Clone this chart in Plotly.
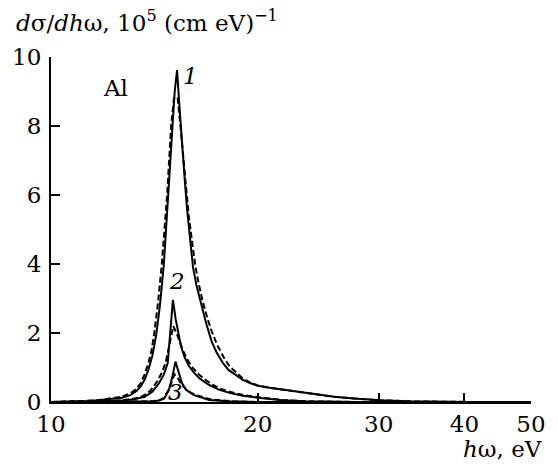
import math
import plotly.graph_objects as go

# Curve 1 (solid)
e1 = [10, 10.83, 11.29, 11.76, 12.22, 12.68, 13.05, 13.32, 13.51, 13.69, 13.87, 14.05, 14.23,
      14.41, 14.60, 14.83, 15.03, 15.14, 15.26, 15.38, 15.51, 15.65, 15.78, 15.92, 16.10,
      16.28, 16.46, 16.69, 16.87, 17.14, 17.41, 17.77, 18.13, 18.58, 19.03, 19.48, 20.01,
      20.82, 21.71, 23.31, 24.37, 25.86, 27.62, 30.15, 33.11, 36.58, 40.85, 50]
v1 = [0, 0.01, 0.03, 0.05, 0.08, 0.12, 0.2, 0.32, 0.45, 0.65, 0.95, 1.35, 1.95,
      2.8, 4.0, 6.0, 8.0, 9.0, 9.62, 8.6, 7.5, 6.5, 5.6, 4.8, 3.9,
      3.4, 3.0, 2.55, 2.2, 1.75, 1.45, 1.15, 0.93, 0.77, 0.64, 0.55, 0.47,
      0.41, 0.36, 0.27, 0.21, 0.15, 0.1, 0.05, 0.02, 0.005, 0, 0]
# Curve 1 (dashed)
e1d = [10, 10.83, 11.29, 11.76, 12.22, 12.68, 13.05, 13.32, 13.51, 13.69, 13.87, 14.01, 14.14,
       14.32, 14.50, 14.76, 14.96, 15.04, 15.10, 15.19, 15.29, 15.40, 15.56, 15.69, 15.87,
       16.06, 16.24, 16.42, 16.64, 16.91, 17.14, 17.46, 17.86, 18.22, 18.67, 19.03, 19.48,
       20.01, 20.82, 21.71, 23.31, 24.37, 25.86, 27.62, 30.15, 33.11, 36.58, 40.85, 50]
v1d = [0, 0.015, 0.035, 0.06, 0.1, 0.15, 0.25, 0.38, 0.55, 0.8, 1.15, 1.5, 2.0,
       2.9, 4.0, 6.0, 8.0, 8.6, 8.8, 8.85, 8.8, 8.2, 7.2, 6.3, 5.4,
       4.6, 3.9, 3.4, 2.9, 2.4, 2.05, 1.65, 1.28, 1.02, 0.82, 0.68, 0.57,
       0.48, 0.41, 0.36, 0.27, 0.21, 0.15, 0.1, 0.05, 0.02, 0.005, 0, 0]
# Curve 2 (solid)
e2 = [10, 11.76, 12.68, 13.23, 13.69, 14.05, 14.37, 14.60, 14.79, 14.92, 15.05, 15.19, 15.33,
      15.47, 15.65, 15.87, 16.15, 16.46, 16.96, 17.59, 18.31, 19.03, 20.01, 21.71, 23.49,
      27.89, 50]
v2 = [0, 0.01, 0.04, 0.08, 0.15, 0.3, 0.55, 0.8, 1.13, 2.0, 2.96, 2.4, 1.95,
      1.6, 1.3, 1.05, 0.85, 0.68, 0.5, 0.35, 0.25, 0.18, 0.12, 0.05, 0.02,
      0, 0]
# Curve 2 (dashed)
e2d = [10, 11.76, 12.68, 13.23, 13.60, 13.96, 14.28, 14.50, 14.69, 14.92, 15.07, 15.23, 15.42,
       15.60, 15.83, 16.10, 16.42, 16.73, 17.18, 17.77, 18.49, 19.21, 20.19, 21.71, 23.49,
       27.89, 50]
v2d = [0, 0.015, 0.05, 0.1, 0.17, 0.33, 0.6, 0.85, 1.15, 1.8, 2.2, 2.0, 1.72,
       1.45, 1.2, 0.98, 0.8, 0.66, 0.5, 0.36, 0.26, 0.19, 0.13, 0.06, 0.02,
       0, 0]
# Curve 3 (solid)
e3 = [10, 13.60, 14.14, 14.41, 14.62, 14.85, 15.01, 15.18, 15.33, 15.51, 15.74, 16.15,
      17.00, 18.13, 19.93, 50]
v3 = [0, 0, 0.02, 0.05, 0.1, 0.35, 0.7, 1.17, 0.85, 0.55, 0.35, 0.2, 0.06, 0.02, 0, 0]
# Curve 3 (dashed)
e3d = [10, 13.60, 14.05, 14.37, 14.60, 14.83, 15.01, 15.13, 15.29, 15.51, 15.78, 16.24,
       17.14, 18.40, 19.93, 50]
v3d = [0, 0, 0.02, 0.05, 0.12, 0.35, 0.65, 0.8, 0.7, 0.5, 0.33, 0.2, 0.07, 0.02, 0, 0]

x_ticks = [10, 20, 30, 40, 50]
y_ticks = [0, 2, 4, 6, 8, 10]

FONT = "DejaVu Serif"
FS = 23

fig = go.Figure()
for (xs, ys, dash) in [(e1d, v1d, "6px,3px"), (e2d, v2d, "6px,3px"), (e3d, v3d, "6px,3px"),
                       (e1, v1, "solid"), (e2, v2, "solid"), (e3, v3, "solid")]:
    fig.add_trace(go.Scatter(x=xs, y=ys, mode="lines",
                             line=dict(color="black", width=2, dash=dash),
                             showlegend=False, hoverinfo="skip"))

W, H = 558, 464
l, r, t, b = 46, 15, 57, 62
pw, ph = W - l - r, H - t - b

fig.update_layout(
    width=W, height=H,
    margin=dict(l=l, r=r, t=t, b=b),
    paper_bgcolor="white", plot_bgcolor="white",
    font=dict(family=FONT, size=FS, color="black"),
    showlegend=False,
)
fig.update_xaxes(type="log", range=[1, math.log10(50)], tickvals=x_ticks,
                 ticktext=[str(v) for v in x_ticks],
                 ticks="inside", ticklen=9, tickwidth=1.5, tickcolor="black",
                 showline=True, linecolor="black", linewidth=2,
                 showgrid=False, zeroline=False,
                 tickfont=dict(family=FONT, size=FS, color="black"))
fig.update_yaxes(range=[0, 10], tickvals=y_ticks,
                 ticks="inside", ticklen=9, tickwidth=1.5, tickcolor="black",
                 showline=True, linecolor="black", linewidth=2,
                 showgrid=False, zeroline=False, ticklabelstandoff=3,
                 tickfont=dict(family=FONT, size=FS, color="black"))


def px2paper(x, y):
    return (x - l) / pw, (H - b - y) / ph


ann = [
    ("<i>d</i>σ/<i>dh</i>ω, 10<sup>5</sup> (cm eV)<sup>−1</sup>", 8, 21, "left"),
    ("<i>h</i>ω, eV", 556, 449, "right"),
]
for txt, x, y, xa in ann:
    px, py = px2paper(x, y)
    fig.add_annotation(xref="paper", yref="paper", x=px, y=py, text=txt,
                       xanchor=xa, yanchor="middle", showarrow=False,
                       font=dict(family=FONT, size=FS, color="black"))

# in-plot labels (x in eV, y in data units)
labels = [("Al", 12.43, 9.1, False),
          ("1", 15.94, 9.45, True),
          ("2", 15.28, 3.5, True),
          ("3", 15.18, 0.28, True)]
for txt, xv, yv, it in labels:
    fig.add_annotation(x=math.log10(xv), y=yv, text=(f"<i>{txt}</i>" if it else txt),
                       showarrow=False, xanchor="center", yanchor="middle",
                       font=dict(family=FONT, size=FS, color="black"))

fig.write_html("out.html")
